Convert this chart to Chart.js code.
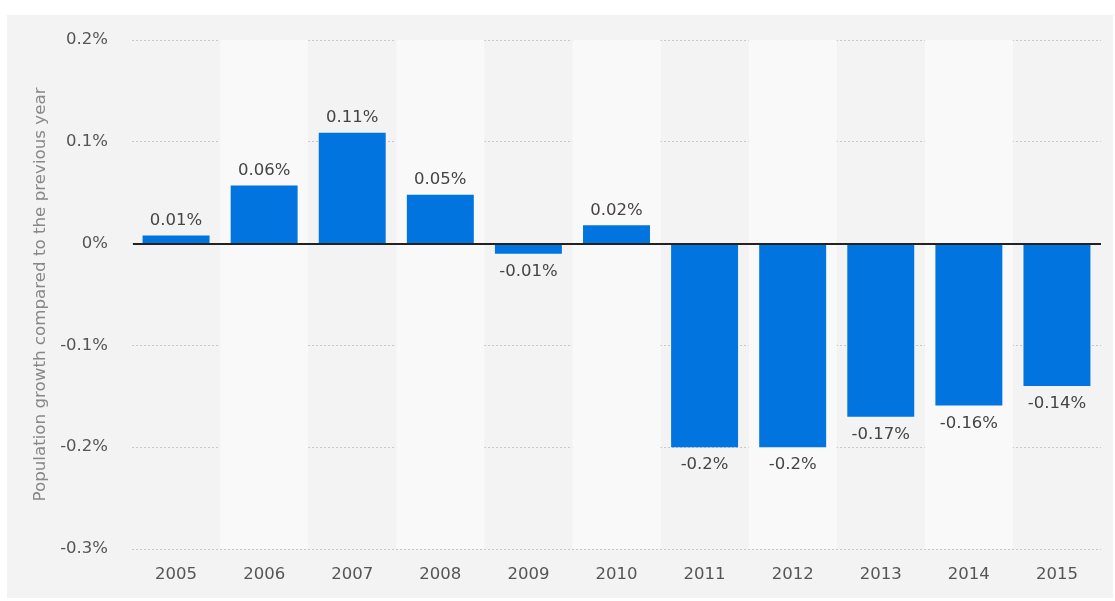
<!DOCTYPE html>
<html>
<head>
<meta charset="utf-8">
<script src="https://cdn.jsdelivr.net/npm/chart.js@4/dist/chart.umd.min.js"></script>
<style>
  body { margin: 0; background: #fff; }
  #panel { position: absolute; left: 7px; top: 15px; width: 1106px; height: 583px; background: #f3f3f3; }
</style>
</head>
<body>
<div id="panel"><canvas id="growthChart" width="1106" height="583"></canvas></div>
<script>
const years = ['2005', '2006', '2007', '2008', '2009', '2010', '2011', '2012', '2013', '2014', '2015'];
const growth = [0.008, 0.057, 0.109, 0.048, -0.01, 0.018, -0.2, -0.2, -0.17, -0.159, -0.14];
const growthLabels = ['0.01%', '0.06%', '0.11%', '0.05%', '-0.01%', '0.02%', '-0.2%', '-0.2%', '-0.17%', '-0.16%', '-0.14%'];
const yTicks = [0.2, 0.1, 0, -0.1, -0.2, -0.3];

const FONT = 'DejaVu Sans';

// alternating column bands behind the bars
const bandsPlugin = {
    id: 'bands',
    beforeDatasetsDraw(chart) {
        const { ctx, chartArea, scales: { x } } = chart;
        const step = x.getPixelForValue(1) - x.getPixelForValue(0);
        ctx.save();
        years.forEach((y, i) => {
            if (i % 2 === 1) {
                const cx = x.getPixelForValue(i);
                ctx.fillStyle = '#f9f9f9';
                ctx.fillRect(cx - step / 2, chartArea.top, step, chartArea.bottom - chartArea.top);
            }
        });
        ctx.restore();
    }
};

const zeroLinePlugin = {
    id: 'zeroLine',
    afterDatasetsDraw(chart) {
        const { ctx, chartArea, scales: { y } } = chart;
        const py = Math.round(y.getPixelForValue(0));
        ctx.save();
        ctx.strokeStyle = '#222';
        ctx.lineWidth = 2;
        ctx.beginPath();
        ctx.moveTo(chartArea.left + 1, py);
        ctx.lineTo(chartArea.right, py);
        ctx.stroke();
        ctx.restore();
    }
};

const valueLabelPlugin = {
    id: 'valueLabels',
    afterDatasetsDraw(chart) {
        const { ctx } = chart;
        const meta = chart.getDatasetMeta(0);
        ctx.save();
        ctx.font = '16.5px "' + FONT + '"';
        ctx.fillStyle = '#444';
        ctx.textAlign = 'center';
        ctx.textBaseline = 'middle';
        meta.data.forEach((bar, i) => {
            const v = growth[i];
            const yPos = v >= 0 ? bar.y - 15 : bar.y + 18;
            ctx.fillText(growthLabels[i], bar.x, yPos);
        });
        ctx.restore();
    }
};

new Chart(document.getElementById('growthChart'), {
    type: 'bar',
    data: {
        labels: years,
        datasets: [{
            data: growth,
            backgroundColor: '#0174df',
            borderWidth: 0,
            categoryPercentage: 1,
            barPercentage: 0.76
        }]
    },
    options: {
        responsive: false,
        animation: false,
        layout: { padding: { left: 24, right: 12, top: 25, bottom: 0 } },
        plugins: {
            legend: { display: false },
            tooltip: { enabled: false }
        },
        scales: {
            x: {
                grid: { display: false, drawTicks: false },
                border: { display: false },
                ticks: { color: '#555', font: { family: FONT, size: 16.5 }, padding: 16 },
                afterFit(scale) { scale.height = 49; }
            },
            y: {
                min: -0.3,
                max: 0.2,
                afterBuildTicks(scale) { scale.ticks = yTicks.map(v => ({ value: v })); },
                grid: { color: '#c8c8c8', lineWidth: 1, drawTicks: false },
                border: { display: false, dash: [2, 2] },
                ticks: {
                    color: '#555',
                    font: { family: FONT, size: 16.5 },
                    padding: 24,
                    callback: v => (Math.round(v * 10) / 10) + '%'
                },
                title: {
                    display: true,
                    text: 'Population growth compared to the previous year',
                    color: '#888',
                    font: { family: FONT, size: 16.7 },
                    padding: 0
                },
                afterFit(scale) {
                    scale.width = 101;
                    scale.paddingTop = 0;
                    scale.paddingBottom = 0;
                }
            }
        }
    },
    plugins: [bandsPlugin, zeroLinePlugin, valueLabelPlugin]
});
</script>
</body>
</html>
